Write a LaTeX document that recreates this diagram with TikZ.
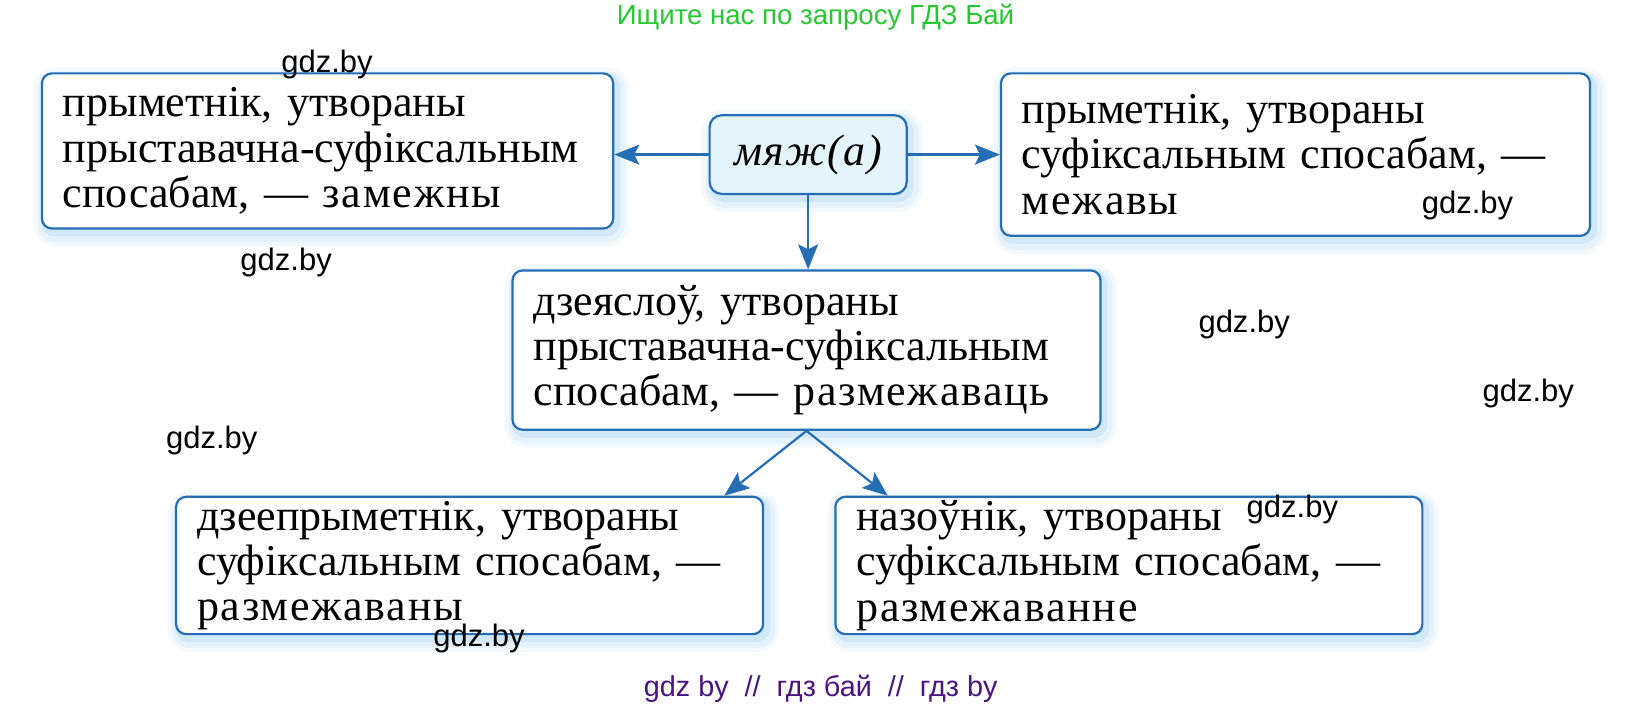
\documentclass[tikz,border=0pt]{standalone}
\usepackage{fontspec}
\setmainfont{Liberation Serif}
\newfontfamily\wmfont{Liberation Sans}
\usetikzlibrary{arrows.meta,calc}
\definecolor{boxblue}{RGB}{38,110,180}
\definecolor{glowblue}{RGB}{165,212,245}
\definecolor{cfill}{RGB}{228,244,252}
\definecolor{titlegreen}{RGB}{40,200,50}
\definecolor{wmpurple}{RGB}{75,20,130}
\newcommand\pxu{0.524pt}
\newcommand\rzr[1]{{\addfontfeature{LetterSpace=4}#1}}
\tikzset{
  glow/.style={
    preaction={draw=glowblue, line width=12pt, opacity=0.12, transform canvas={shift={(2pt,-3pt)}}},
    preaction={draw=glowblue, line width=8pt, opacity=0.18, transform canvas={shift={(2pt,-3pt)}}},
    preaction={draw=glowblue, line width=4pt, opacity=0.3, transform canvas={shift={(1.5pt,-2pt)}}}},
  bx/.style={glow, draw=boxblue, line width=1.1pt, rounded corners=5pt, fill=white,
    align=left, inner xsep={20*\pxu}, inner ysep=1pt,
    font=\fontsize{22}{22.6}\selectfont},
  cbx/.style={glow, draw=boxblue, line width=1.1pt, rounded corners=6pt, fill=cfill,
    inner sep=2pt, font=\fontsize{22}{23}\selectfont\itshape\addfontfeature{LetterSpace=3}},
  arr/.style={draw=boxblue, line width=1.1pt, -{Stealth[length=12.5pt,width=10pt,inset=2.5pt]}},
  wm/.style={font=\wmfont\fontsize{15.5}{17}\selectfont, text=black, inner sep=0pt},
  ttl/.style={font=\wmfont\fontsize{13.8}{15}\selectfont, text=titlegreen, inner sep=0pt},
  bot/.style={font=\wmfont\fontsize{14.4}{16}\selectfont, text=wmpurple, inner sep=0pt}
}
\begin{document}
\begin{tikzpicture}[x=\pxu,y=-\pxu]
\useasboundingbox[fill=white] (0,0) rectangle (1567.5,672.5);

\node[bx, minimum width={545*\pxu}, minimum height={148*\pxu}, text width={505*\pxu}] (A) at (312.5,144)
  {прыметнік, утвораны\\прыставачна-суфіксальным\\спосабам, — \rzr{замежны}};
\node[cbx, minimum width={188*\pxu}, minimum height={75*\pxu}] (C) at (771,147.5) {мяж(а)};
\node[bx, minimum width={562*\pxu}, minimum height={155*\pxu}, text width={522*\pxu}] (B) at (1236,147.5)
  {прыметнік, утвораны\\суфіксальным спосабам, —\\\rzr{межавы}};
\node[bx, minimum width={561*\pxu}, minimum height={152*\pxu}, text width={521*\pxu}] (D) at (769.5,334)
  {дзеяслоў, утвораны\\прыставачна-суфіксальным\\спосабам, — \rzr{размежаваць}};
\node[bx, minimum width={560*\pxu}, minimum height={131*\pxu}, text width={520*\pxu}] (E) at (448,539.5)
  {дзеепрыметнік, утвораны\\суфіксальным спосабам, —\\\rzr{размежаваны}};
\node[bx, minimum width={560*\pxu}, minimum height={131*\pxu}, text width={520*\pxu}] (F) at (1077,539.5)
  {назоўнік, утвораны\\суфіксальным спосабам, —\\\rzr{размежаванне}};

\draw[arr] (C.west) -- (C.west -| A.east);
\draw[arr] (C.east) -- (C.east -| B.west);
\draw[arr] (C.south) -- (C.south |- D.north);
\draw[arr] (D.south) -- ($(E.north east)+(-38,0)$);
\draw[arr] (D.south) -- ($(F.north west)+(51,0)$);

\node[ttl] (T) at (778,16) {Ищите нас по запросу ГДЗ Бай};
\node[bot] (W0) at (783,657) {gdz by \ // \ гдз бай \ // \ гдз by};
\node[wm] (W1) at (312,62) {gdz.by};
\node[wm] (W2) at (273,250) {gdz.by};
\node[wm] (W3) at (1400,196) {gdz.by};
\node[wm] (W4) at (1187,310) {gdz.by};
\node[wm] (W5) at (1458,375) {gdz.by};
\node[wm] (W6) at (202,420) {gdz.by};
\node[wm] (W7) at (1233,486) {gdz.by};
\node[wm] (W8) at (457,609) {gdz.by};
\end{tikzpicture}
\end{document}
